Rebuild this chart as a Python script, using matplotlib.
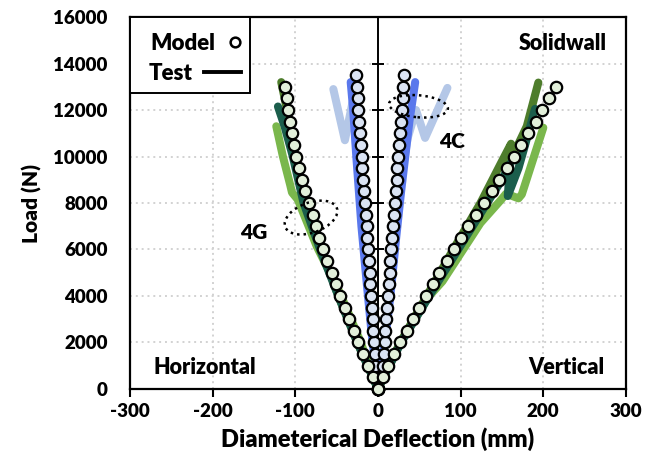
import matplotlib
matplotlib.use("Agg")
import matplotlib.pyplot as plt
import matplotlib.transforms as transforms
from matplotlib.patches import Ellipse, Rectangle
from matplotlib.lines import Line2D

plt.rcParams['font.family'] = ['Lato', 'DejaVu Sans']
plt.rcParams['font.weight'] = 'heavy'
plt.rcParams['axes.labelweight'] = 'heavy'

# --- model results (load in N, deflection in mm) ---
load_g = [0, 500, 1000, 1500, 2000, 2500, 3000, 3500, 4000, 4500, 5000, 5500, 6000, 6500,
          7000, 7500, 8000, 8500, 9000, 9500, 10000, 10500, 11000, 11500, 12000, 12500, 13000]
model_g_horiz = [0, -5.6, -11.7, -18.5, -23.8, -29, -34.7, -40, -46, -50.8, -56, -61.3, -66, -71,
                 -75, -79, -84, -88, -92, -96, -99, -102, -104, -106.5, -108.5, -110.5, -112.5]
model_g_vert = [0, 6.4, 12.5, 19.3, 26.6, 34.7, 42, 50, 58, 66, 74, 83, 92, 100,
                109, 118.5, 128, 137.5, 146.7, 155.5, 164.4, 172.5, 181.7, 191, 199, 207, 215]

load_c = [0, 500, 1000, 1500, 2000, 2500, 3000, 3500, 4000, 4500, 5000, 5500, 6000, 6500,
          7000, 7500, 8000, 8500, 9000, 9500, 10000, 10500, 11000, 11500, 12000, 12500, 13000, 13500]
model_c_horiz = [0, -1.6, -3, -4, -4.8, -5.6, -6.4, -7.7, -8.5, -9.3, -10, -10.9, -11.7, -12.9,
                 -13.7, -14.9, -15.7, -16.9, -17.7, -19, -19.8, -21, -21.8, -22.6, -23.8, -24.6, -25.8, -26.6]
model_c_vert = [0, 3.5, 5.8, 7.3, 8.1, 8.9, 9.7, 10.9, 12.1, 12.9, 14.1, 14.9, 16.1, 17.4,
                18.2, 19.4, 20.2, 21.4, 22.6, 23.4, 24.6, 25.4, 26.6, 27.4, 28.6, 29.8, 30.6, 31.4]

# --- test records, 4G (three specimens) ---
g1_h_x = [0, -25, -48, -68, -87, -100, -110, -117]
g1_h_y = [0, 2000, 4000, 6000, 8000, 10000, 12000, 13200]
g2_h_x = [0, -25, -48, -70, -90, -103, -113, -121]
g2_h_y = [0, 2000, 4000, 6000, 8000, 10000, 11300, 12150]
g3_h_x = [0, -6, -22, -46, -74, -97, -104, -106, -115, -123]
g3_h_y = [0, 530, 2110, 4130, 6130, 8150, 8450, 8750, 10000, 11300]

g1_v_x = [0, 27, 59, 91, 124, 150, 161, 157, 168, 180, 194]
g1_v_y = [0, 2000, 4000, 6000, 8000, 9800, 10550, 9600, 10400, 11300, 13180]
g2_v_x = [0, 28, 62, 97, 132, 150, 160, 157, 170, 178, 190]
g2_v_y = [0, 2000, 4000, 6000, 8000, 9000, 9700, 8300, 9500, 10500, 12050]
g3_v_x = [0, 27, 62, 78, 124, 148, 155, 170, 174, 200]
g3_v_y = [0, 2000, 4000, 4630, 7140, 8100, 8400, 8200, 8370, 11240]

# --- test records, 4C (two specimens) ---
c1_h_x = [0, -3, -8, -14, -20, -26, -30, -33]
c1_h_y = [0, 1000, 2500, 4700, 7000, 9900, 12000, 13200]
c1_v_x = [0, 5, 10, 15, 22, 28, 33, 38, 45]
c1_v_y = [0, 1000, 2500, 4000, 6500, 8500, 10000, 11500, 13200]
c2_h_x = [0, -3, -7, -13, -19, -24, -31, -40, -54]
c2_h_y = [0, 1000, 2500, 4700, 7000, 9500, 12300, 10700, 12900]
c2_v_x = [0, 4, 9, 15, 22, 30, 36, 46, 57, 84]
c2_v_y = [0, 1000, 2500, 4500, 7000, 9500, 10800, 12000, 10800, 12950]

x_ticks = [-300, -200, -100, 0, 100, 200, 300]
y_ticks = [0, 2000, 4000, 6000, 8000, 10000, 12000, 14000, 16000]

green_dark = '#4e7d2c'
green_teal = '#1b5e4c'
green_light = '#7ab74c'
blue_mid = '#5a78ec'
blue_light = '#b4c7e7'
fill_g = '#e2efda'
fill_c = '#dae3f3'

fig = plt.figure(figsize=(6.46, 4.61), dpi=100)
ax = fig.add_axes([0.2012, 0.1562, 0.7678, 0.8069])

lw = 5.8
tkw = dict(lw=lw, solid_capstyle='round', solid_joinstyle='round')
for xs, ys in [(c2_h_x, c2_h_y), (c2_v_x, c2_v_y)]:
    ax.plot(xs, ys, color=blue_light, zorder=3, **tkw)
for xs, ys in [(c1_h_x, c1_h_y), (c1_v_x, c1_v_y)]:
    ax.plot(xs, ys, color=blue_mid, zorder=3.1, **tkw)
for xs, ys in [(g3_h_x, g3_h_y), (g3_v_x, g3_v_y)]:
    ax.plot(xs, ys, color=green_light, zorder=3.2, **tkw)
for xs, ys in [(g1_h_x, g1_h_y), (g1_v_x, g1_v_y)]:
    ax.plot(xs, ys, color=green_dark, zorder=3.3, **tkw)
for xs, ys in [(g2_h_x, g2_h_y), (g2_v_x, g2_v_y)]:
    ax.plot(xs, ys, color=green_teal, zorder=3.4, **tkw)

mkw = dict(ls='none', marker='o', ms=8.2, mec='black', mew=1.6, clip_on=False)
ax.plot(model_c_horiz, load_c, mfc=fill_c, zorder=5, **mkw)
ax.plot(model_c_vert, load_c, mfc=fill_c, zorder=5, **mkw)
ax.plot(model_g_horiz, load_g, mfc=fill_g, zorder=5.1, **mkw)
ax.plot(model_g_vert, load_g, mfc=fill_g, zorder=5.1, **mkw)

ax.set_xlim(-300, 300)
ax.set_ylim(0, 16000)
ax.set_xticks(x_ticks)
ax.set_yticks(y_ticks)
ax.set_xticklabels([str(v) for v in x_ticks])
ax.set_yticklabels([str(v) for v in y_ticks])
ax.tick_params(axis='x', direction='out', length=6, width=1.5, labelsize=13.5, pad=4)
ax.tick_params(axis='y', length=0, labelsize=13.5, pad=16)
for s in ax.spines.values():
    s.set_linewidth(1.6)
    s.set_zorder(4)

# dotted grid (the zero line is drawn separately as the crossing axis)
for v in x_ticks[1:-1]:
    if v != 0:
        ax.axvline(v, color='#d2d2d2', ls=(0, (1, 2)), lw=1.4, zorder=1)
for v in y_ticks[1:-1]:
    ax.axhline(v, color='#d2d2d2', ls=(0, (1, 2)), lw=1.4, zorder=1)

# vertical axis crossing at zero with cross tick marks
ax.axvline(0, color='black', lw=1.4, zorder=2)
ax.plot([0] * (len(y_ticks) - 2), y_ticks[1:-1], ls='none', marker='_', ms=9,
        mew=1.4, color='black', zorder=2)

ax.set_xlabel('Diameterical Deflection (mm)', fontsize=17, labelpad=5)
ax.set_ylabel('Load (N)', fontsize=15, labelpad=8)

# legend box
ax.add_patch(Rectangle((0, 0.796), 0.242, 0.204, transform=ax.transAxes, fill=True,
                       fc='white', ec='black', lw=1.4, zorder=6))
ax.text(0.107, 0.930, 'Model', transform=ax.transAxes, ha='center', va='center',
        fontsize=16, zorder=7)
ax.text(0.081, 0.849, 'Test', transform=ax.transAxes, ha='center', va='center',
        fontsize=16, zorder=7)
ax.add_line(Line2D([0.211], [0.932], transform=ax.transAxes, ls='none', marker='o', ms=7,
                   mfc='white', mec='black', mew=1.8, zorder=7))
ax.add_line(Line2D([0.149, 0.224], [0.851, 0.851], transform=ax.transAxes, color='black',
                   lw=2.8, zorder=7))

# region labels
ax.text(0.873, 0.930, 'Solidwall', transform=ax.transAxes, ha='center', va='center', fontsize=15.5)
ax.text(0.151, 0.059, 'Horizontal', transform=ax.transAxes, ha='center', va='center', fontsize=15.5)
ax.text(0.879, 0.059, 'Vertical', transform=ax.transAxes, ha='center', va='center', fontsize=15.5)
ax.text(89, 10650, '4C', ha='center', va='center', fontsize=15, zorder=8)
ax.text(-150, 6730, '4G', ha='center', va='center', fontsize=15, zorder=8)

# dotted ellipses marking the specimens, sized in inches around a data point
for (cx, cy), w, h, ang in [((49, 12160), 0.59, 0.22, -5), ((-81, 7374), 0.55, 0.30, 20)]:
    tr = fig.dpi_scale_trans + transforms.ScaledTranslation(cx, cy, ax.transData)
    ax.add_patch(Ellipse((0, 0), w, h, angle=ang, transform=tr, fill=False, ec='black',
                         lw=1.8, ls=(0, (1, 1.6)), zorder=8))

fig.savefig('out.png', dpi=100)
